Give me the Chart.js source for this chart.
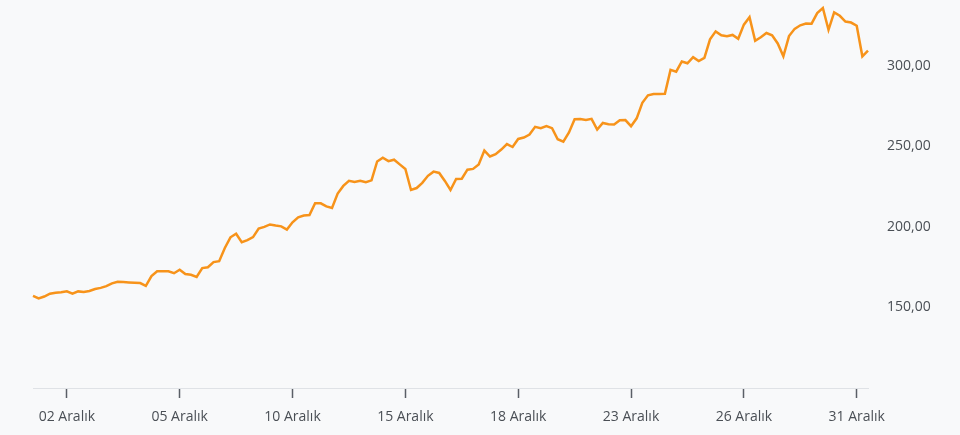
<!DOCTYPE html>
<html lang="tr">
<head>
<meta charset="utf-8">
<script src="https://cdn.jsdelivr.net/npm/chart.js@4/dist/chart.umd.min.js"></script>
<style>
  html, body { margin: 0; padding: 0; background: #f8f9fa; }
  #wrap { width: 960px; height: 435px; }
</style>
</head>
<body>
<div id="wrap"><canvas id="priceChart"></canvas></div>
<script>
// price series, one value per sample
const prices = [
  157.2, 155.6, 156.8, 158.6, 159.2, 159.5, 160.1, 158.6, 160.0, 159.6,
  160.3, 161.5, 162.2, 163.3, 165.0, 166.0, 165.8, 165.6, 165.4, 165.2,
  163.5, 169.5, 172.5, 172.5, 172.5, 171.3, 173.5, 170.8, 170.3, 169.0,
  174.5, 175.0, 178.2, 178.8, 187.0, 193.6, 195.8, 190.6, 191.8, 193.7,
  199.0, 200.1, 201.6, 200.9, 200.4, 198.4, 202.9, 206.0, 207.1, 207.4,
  214.8, 214.7, 212.8, 211.8, 220.8, 225.5, 228.7, 227.9, 228.7, 227.8,
  229.0, 240.7, 243.0, 240.9, 241.8, 238.9, 236.0, 223.0, 224.2, 227.4,
  231.8, 234.4, 233.6, 228.6, 223.0, 229.8, 230.0, 235.6, 236.1, 238.8,
  247.5, 243.8, 245.2, 248.1, 251.5, 249.7, 254.7, 255.6, 257.4, 262.2,
  261.4, 262.7, 261.4, 254.5, 253.0, 258.7, 266.9, 267.1, 266.5, 267.2,
  260.5, 264.6, 263.8, 263.7, 266.3, 266.4, 262.6, 267.5, 277.1, 281.8,
  282.6, 282.6, 282.8, 297.6, 296.5, 302.8, 301.7, 305.5, 303.1, 305.0,
  316.6, 321.5, 319.1, 318.5, 319.3, 316.9, 325.7, 330.3, 315.7, 317.9,
  320.5, 319.1, 314.0, 306.0, 318.6, 323.1, 325.3, 326.4, 326.3, 332.9,
  336.0, 322.5, 333.3, 331.2, 327.6, 327.0, 325.0, 306.0, 309.5
];

// where the date ticks sit (sample index) and their labels
const tickPositions = [6, 26, 46, 66, 86, 106, 126, 146];
const tickLabels = ['02 Aralık', '05 Aralık', '10 Aralık', '15 Aralık',
                    '18 Aralık', '23 Aralık', '26 Aralık', '31 Aralık'];
const priceTicks = [150, 200, 250, 300];

const points = prices.map((v, i) => ({ x: i, y: v }));
const textColor = '#4a4f55';
const font = { family: '"Open Sans", "Noto Sans", sans-serif', size: 14 };

new Chart(document.getElementById('priceChart'), {
  type: 'line',
  data: {
    datasets: [{
      data: points,
      borderColor: '#f7931a',
      borderWidth: 2.5,
      pointRadius: 0,
      tension: 0,
      fill: false,
      clip: false,
    }],
  },
  options: {
    responsive: true,
    maintainAspectRatio: false,
    animation: false,
    devicePixelRatio: 1,
    layout: { autoPadding: false, padding: { left: 33, top: 0, right: 0, bottom: 0 } },
    plugins: { legend: { display: false }, tooltip: { enabled: false } },
    scales: {
      x: {
        type: 'linear',
        min: 0,
        max: prices.length - 1,
        afterBuildTicks: (axis) => {
          axis.ticks = tickPositions.map((v) => ({ value: v }));
        },
        afterFit: (axis) => { axis.height = 47; },
        grid: {
          display: true,
          drawOnChartArea: false,
          drawTicks: true,
          tickLength: 10,
          tickColor: '#5a5f66',
          tickWidth: 1.5,
        },
        border: { display: true, color: '#dfe2e6', width: 1 },
        ticks: {
          autoSkip: false,
          maxRotation: 0,
          padding: 11,
          color: textColor,
          font,
          callback: (v) => tickLabels[tickPositions.indexOf(v)] || '',
        },
      },
      y: {
        position: 'right',
        min: 100,
        max: 341,
        afterBuildTicks: (axis) => {
          axis.ticks = priceTicks.map((v) => ({ value: v }));
        },
        afterFit: (axis) => {
          axis.width = 92;
          axis.paddingTop = 0;
          axis.paddingBottom = 0;
        },
        grid: { display: false },
        border: { display: false },
        ticks: {
          padding: 11,
          color: textColor,
          font,
          callback: (v) => v.toFixed(2).replace('.', ','),
        },
      },
    },
  },
});
</script>
</body>
</html>
